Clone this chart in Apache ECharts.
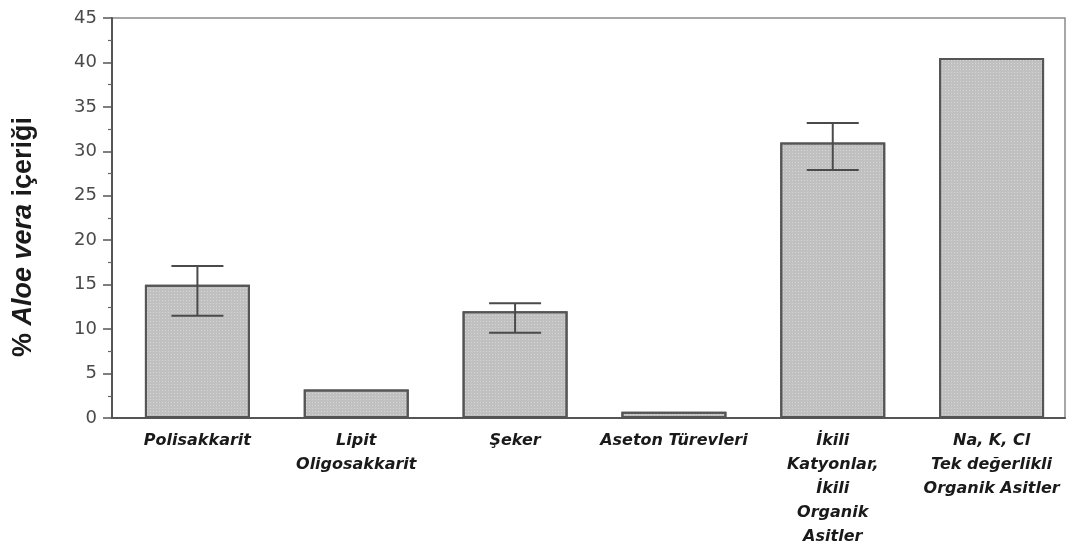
<!DOCTYPE html>
<html>
<head>
<meta charset="utf-8">
<script src="https://cdn.jsdelivr.net/npm/echarts@6/dist/echarts.min.js"></script>
<style>
  html, body { margin: 0; padding: 0; background: #fff; }
  #chart { width: 1067px; height: 547px; }
</style>
</head>
<body>
<div id="chart"></div>
<script>
// Aloe vera composition (%), with spread shown as error bars
const categories = [
  'Polisakkarit',
  'Lipit\nOligosakkarit',
  'Şeker',
  'Aseton Türevleri',
  'İkili\nKatyonlar,\nİkili\nOrganik\nAsitler',
  'Na, K, Cl\nTek değerlikli\nOrganik Asitler'
];
const values = [15, 3.2, 12, 0.7, 31, 40.5];
const errLow = [11.5, null, 9.6, null, 27.9, null];
const errHigh = [17.1, null, 12.9, null, 33.2, null];
const yTicks = { min: 0, max: 45, interval: 5 };

const errorData = [];
categories.forEach((c, i) => {
  if (errLow[i] != null) errorData.push([i, errLow[i], errHigh[i]]);
});

const chart = echarts.init(document.getElementById('chart'), null, { renderer: 'canvas' });

chart.setOption({
  animation: false,
  backgroundColor: '#fff',
  grid: [
    { left: 112, right: 2, top: 18, bottom: 129, show: true, borderColor: '#8a8a8a', borderWidth: 1.5, outerBoundsMode: 'none', containLabel: false },
    { left: 118, right: -4, top: 18, bottom: 129, outerBoundsMode: 'none', containLabel: false }
  ],
  xAxis: [
    {
      gridIndex: 0, type: 'value', min: 0, max: 1,
      axisLine: { show: true, onZero: false, lineStyle: { color: '#555', width: 2 } },
      axisTick: { show: false }, axisLabel: { show: false }, splitLine: { show: false }
    },
    {
      gridIndex: 1, type: 'category', data: categories,
      axisLine: { show: false }, axisTick: { show: false },
      axisLabel: {
        interval: 0, margin: 11, color: '#1a1a1a',
        fontFamily: 'DejaVu Sans', fontWeight: 'bold', fontStyle: 'italic',
        fontSize: 16, lineHeight: 24
      }
    }
  ],
  yAxis: [
    {
      gridIndex: 0, type: 'value', min: yTicks.min, max: yTicks.max, interval: yTicks.interval,
      name: '% {i|Aloe vera} içeriği',
      nameLocation: 'middle', nameGap: 75, nameRotate: 90,
      nameTextStyle: {
        fontFamily: 'Liberation Sans', fontWeight: 'bold', fontSize: 27, color: '#1a1a1a',
        padding: [0, 38, 0, 0],
        rich: { i: { fontFamily: 'Liberation Sans', fontWeight: 'bold', fontStyle: 'italic', fontSize: 27, color: '#1a1a1a' } }
      },
      axisLine: { show: true, lineStyle: { color: '#555', width: 2 } },
      axisTick: { show: true, inside: false, length: 9, lineStyle: { color: '#555', width: 1.5 } },
      minorTick: { show: true, splitNumber: 2, length: 4, lineStyle: { color: '#666', width: 1.2 } },
      axisLabel: { color: '#4a4a4a', fontFamily: 'DejaVu Sans', fontSize: 18, margin: 15 },
      splitLine: { show: false }
    },
    {
      gridIndex: 1, type: 'value', min: yTicks.min, max: yTicks.max, show: false
    }
  ],
  series: [
    {
      type: 'bar', xAxisIndex: 1, yAxisIndex: 1, data: values, barWidth: 105,
      itemStyle: {
        color: '#c0c0c0', borderColor: '#555', borderWidth: 2,
        decal: {
          symbol: 'rect', symbolSize: 1, color: 'rgba(255,255,255,0.35)',
          dashArrayX: [1, 2], dashArrayY: [1, 2]
        }
      }
    },
    {
      type: 'custom', xAxisIndex: 1, yAxisIndex: 1, data: errorData, z: 5,
      renderItem: function (params, api) {
        const x = api.value(0);
        const lo = api.coord([x, api.value(1)]);
        const hi = api.coord([x, api.value(2)]);
        const hw = 26;
        const style = { stroke: '#4a4a4a', lineWidth: 2 };
        return {
          type: 'group',
          children: [
            { type: 'line', shape: { x1: hi[0], y1: hi[1], x2: lo[0], y2: lo[1] }, style },
            { type: 'line', shape: { x1: hi[0] - hw, y1: hi[1], x2: hi[0] + hw, y2: hi[1] }, style },
            { type: 'line', shape: { x1: lo[0] - hw, y1: lo[1], x2: lo[0] + hw, y2: lo[1] }, style }
          ]
        };
      }
    }
  ]
});
</script>
</body>
</html>
